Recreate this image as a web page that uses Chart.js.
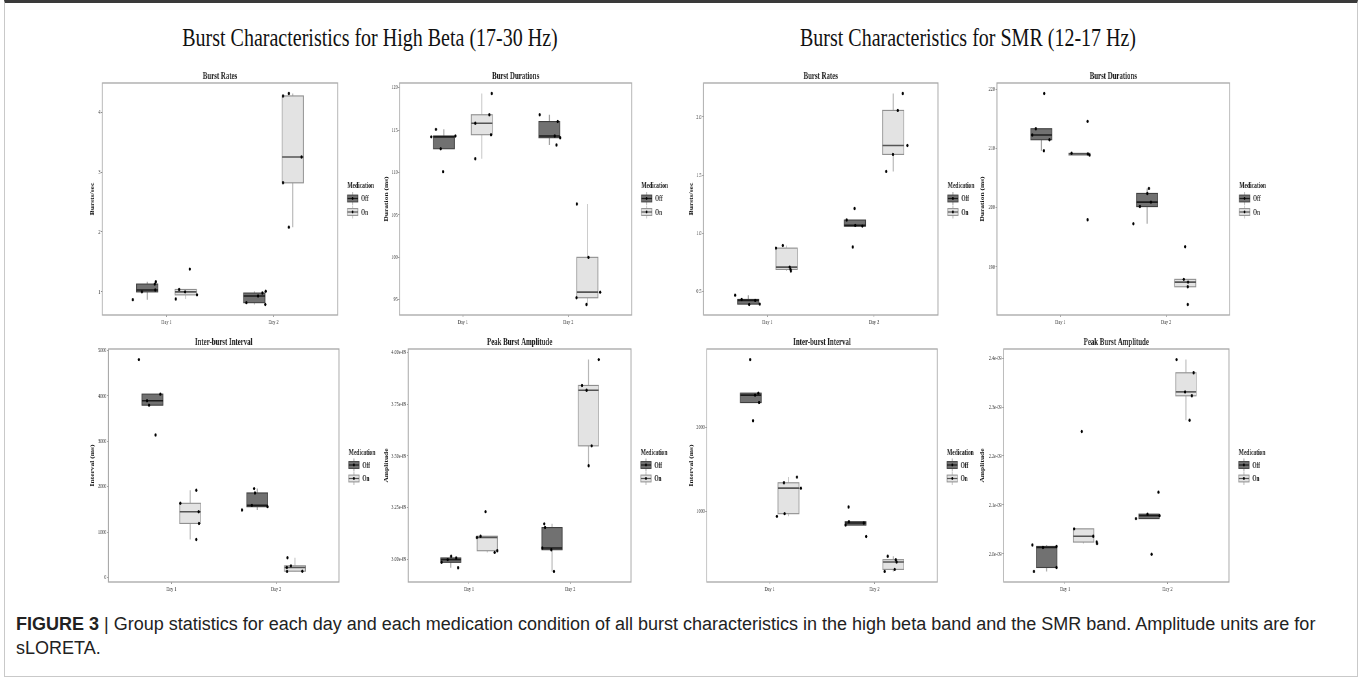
<!DOCTYPE html>
<html>
<head>
<meta charset="utf-8">
<script src="https://cdn.jsdelivr.net/npm/chart.js@4.4.1/dist/chart.umd.min.js"></script>
<style>
  html, body { margin: 0; padding: 0; background: #fff; }
  body { width: 1362px; height: 679px; position: relative; overflow: hidden; }
  .frame { position: absolute; left: 4px; top: 0; width: 1354px; height: 677px; box-sizing: border-box;
           border: 1px solid #c9c9c9; border-top: 3px solid #3a3a3a; }
  .band { position: absolute; top: 23px; width: 640px; text-align: center; white-space: nowrap;
          font-family: "Liberation Serif", "Times New Roman", serif; font-size: 25px; line-height: 30px; color: #111;
          transform: scaleX(0.8); transform-origin: 50% 0; }
  .panel { position: absolute; }
  .panel canvas { display: block; transform-origin: 0 0; }
  .caption { position: absolute; left: 16px; top: 612px; width: 1340px; white-space: nowrap;
             font-family: "Liberation Sans", Arial, sans-serif; font-size: 18px; line-height: 24px; color: #222; }
  .caption b { font-weight: bold; }
</style>
</head>
<body>
<div class="frame"></div>
<div class="band" style="left:50px">Burst Characteristics for High Beta (17-30 Hz)</div>
<div class="band" style="left:648px">Burst Characteristics for SMR (12-17 Hz)</div>
<div class="caption"><b>FIGURE 3</b> | Group statistics for each day and each medication condition of all burst characteristics in the high beta band and the SMR band. Amplitude units are for<br>sLORETA.</div>

<script>
/* ---------- data (5 subjects per group) ---------- */
const days = ["Day 1", "Day 2"];
const medications = ["Off", "On"];
const panelTitles = ["Burst Rates", "Burst Durations", "Burst Rates", "Burst Durations",
                     "Inter-burst Interval", "Peak Burst Amplitude", "Inter-burst Interval", "Peak Burst Amplitude"];
const yTitles = ["Bursts/sec", "Duration (ms)", "Bursts/sec", "Duration (ms)",
                 "Interval (ms)", "Amplitude", "Interval (ms)", "Amplitude"];

// high beta - burst rates
const hbRateOff = [[0.87, 1.00, 1.03, 1.13, 1.17], [0.82, 0.93, 0.98, 1.01, 0.79]];
const hbRateOn = [[0.88, 1.04, 1.00, 0.95, 1.38], [4.27, 4.31, 3.25, 2.82, 2.08]];
const hbRateOffJit = [[-0.135, -0.05, 0.075, 0.07, 0.08], [-0.073, 0.036, 0.076, 0.107, 0.104]];
const hbRateOnJit = [[-0.093, -0.062, -0.006, 0.105, 0.037], [-0.091, -0.036, 0.082, -0.091, -0.036]];
const hbRateTicks = [1, 2, 3, 4];
const hbRateTickLabels = ["1", "2", "3", "4"];

// high beta - burst durations
const hbDurOff = [[114.2, 115.08, 112.8, 110.1, 114.3], [116.8, 116.0, 114.3, 114.1, 113.23]];
const hbDurOn = [[111.62, 115.8, 116.8, 114.45, 119.3], [106.28, 100.0, 95.9, 95.24, 94.45]];
const hbDurOffJit = [[-0.119, -0.075, -0.03, -0.008, 0.11], [-0.092, 0.079, 0.051, 0.102, 0.067]];
const hbDurOnJit = [[-0.062, -0.062, 0.071, 0.087, 0.094], [-0.1, 0.011, 0.122, -0.103, -0.008]];
const hbDurTicks = [95, 100, 105, 110, 115, 120];
const hbDurTickLabels = ["95", "100", "105", "110", "115", "120"];

// SMR - burst rates
const smrRateOff = [[0.468, 0.431, 0.388, 0.423, 0.391], [1.113, 1.213, 1.067, 1.061, 0.881]];
const smrRateOn = [[0.872, 0.895, 0.709, 0.689, 0.675], [2.055, 2.2, 1.754, 1.677, 1.531]];
const smrRateOffJit = [[-0.124, -0.062, 0.009, 0.065, 0.108], [-0.077, -0.002, 0.004, 0.071, -0.019]];
const smrRateOnJit = [[-0.101, -0.036, 0.029, 0.036, 0.039], [0.043, 0.09, 0.133, -0.003, -0.065]];
const smrRateTicks = [0.5, 1.0, 1.5, 2.0];
const smrRateTickLabels = ["0.5", "1.0", "1.5", "2.0"];

// SMR - burst durations
const smrDurOff = [[212.3, 213.35, 219.3, 211.5, 209.63], [197.3, 200.2, 200.96, 202.42, 203.27]];
const smrDurOn = [[209.2, 209.1, 208.9, 214.6, 197.97], [187.9, 187.44, 186.65, 193.4, 183.66]];
const smrDurOffJit = [[-0.086, -0.052, 0.027, 0.077, 0.024], [-0.13, -0.068, 0.036, 0.002, 0.017]];
const smrDurOnJit = [[-0.074, 0.08, 0.096, 0.077, 0.077], [-0.014, 0.027, 0.024, 0.0, 0.024]];
const smrDurTicks = [190, 200, 210, 220];
const smrDurTickLabels = ["190", "200", "210", "220"];

// high beta - inter-burst interval
const hbIbiOff = [[4801, 3893, 3797, 4040, 3140], [1487, 1590, 1959, 1863, 1561]];
const hbIbiOn = [[1635, 1922, 1450, 1192, 838], [435, 258, 221, 140, 135]];
const hbIbiOffJit = [[-0.129, -0.052, -0.033, 0.075, 0.03], [-0.146, -0.051, -0.029, -0.022, 0.098]];
const hbIbiOnJit = [[-0.094, 0.059, 0.081, 0.084, 0.059], [-0.071, -0.038, -0.078, 0.071, -0.075]];
const hbIbiTicks = [0, 1000, 2000, 3000, 4000, 5000];
const hbIbiTickLabels = ["0", "1000", "2000", "3000", "4000", "5000"];

// high beta - peak amplitude
const hbAmpOff = [[2.986e-9, 2.999e-9, 3.015e-9, 3.007e-9, 2.96e-9], [3.172e-9, 3.154e-9, 3.055e-9, 3.047e-9, 2.942e-9]];
const hbAmpOn = [[3.106e-9, 3.112e-9, 3.231e-9, 3.034e-9, 3.042e-9], [3.841e-9, 3.818e-9, 3.966e-9, 3.549e-9, 3.453e-9]];
const hbAmpOffJit = [[-0.091, -0.03, 0.004, 0.053, 0.072], [-0.076, -0.069, -0.096, -0.007, 0.019]];
const hbAmpOnJit = [[-0.102, -0.066, -0.017, 0.073, 0.099], [-0.064, -0.018, 0.101, 0.031, 0.002]];
const hbAmpTicks = [3.0e-9, 3.25e-9, 3.5e-9, 3.75e-9, 4.0e-9];
const hbAmpTickLabels = ["3.00e-09", "3.25e-09", "3.50e-09", "3.75e-09", "4.00e-09"];

// SMR - inter-burst interval
const smrIbiOff = [[2808, 2384, 2408, 2296, 2080], [1052, 876, 860, 836, 700]];
const smrIbiOn = [[1340, 1408, 1276, 972, 940], [464, 424, 396, 308, 284]];
const smrIbiOffJit = [[-0.006, 0.041, 0.073, 0.079, 0.022], [-0.067, -0.063, 0.079, -0.095, 0.102]];
const smrIbiOnJit = [[-0.043, 0.081, 0.119, -0.037, -0.11], [-0.053, 0.024, 0.031, 0.013, -0.082]];
const smrIbiTicks = [1000, 2000];
const smrIbiTickLabels = ["1000", "2000"];

// SMR - peak amplitude
const smrAmpOff = [[2.018e-9, 2.013e-9, 2.015e-9, 1.972e-9, 1.964e-9], [2.072e-9, 2.081e-9, 2.078e-9, 2.126e-9, 1.999e-9]];
const smrAmpOn = [[2.051e-9, 2.036e-9, 2.024e-9, 2.021e-9, 2.25e-9], [2.397e-9, 2.37e-9, 2.331e-9, 2.323e-9, 2.273e-9]];
const smrAmpOffJit = [[-0.139, -0.036, 0.097, 0.097, -0.124], [-0.128, -0.015, 0.102, 0.092, 0.025]];
const smrAmpOnJit = [[-0.092, 0.095, 0.128, 0.132, -0.018], [-0.092, 0.075, -0.008, 0.058, 0.035]];
const smrAmpTicks = [2.0e-9, 2.1e-9, 2.2e-9, 2.3e-9, 2.4e-9];
const smrAmpTickLabels = ["2.0e-09", "2.1e-09", "2.2e-09", "2.3e-09", "2.4e-09"];

/* ---------- layout (page px) ---------- */
const S = 0.65;        // the source panels are squeezed horizontally
const TITLE_H = 22;
const XAXIS_H = 12;
const LEGEND_W = 70;
const DODGE = 0.18, HALF = 0.1;
const serif = "'Liberation Serif', 'Times New Roman', serif";

const layout = [
  { plotL: 102.7, plotR: 338, top: 83, bottom: 315, yTitleX: 93.3 },
  { plotL: 399.3, plotR: 631.7, top: 83, bottom: 315, yTitleX: 386.7 },
  { plotL: 703.3, plotR: 937.7, top: 83, bottom: 315, yTitleX: 691.7 },
  { plotL: 997.3, plotR: 1230, top: 83, bottom: 315, yTitleX: 983.3 },
  { plotL: 108.8, plotR: 339.5, top: 349, bottom: 582, yTitleX: 93.3 },
  { plotL: 408, plotR: 630.5, top: 349, bottom: 582, yTitleX: 386.7 },
  { plotL: 706.5, plotR: 937, top: 349, bottom: 582, yTitleX: 691.7 },
  { plotL: 1004, plotR: 1229, top: 349, bottom: 582, yTitleX: 983.3 },
];

const boxStyle = [
  { fill: "#717171", stroke: "#3f3f3f", median: "#1c1c1c", whisker: "#9c9c9c" }, // Off
  { fill: "#e3e3e3", stroke: "#8e8e8e", median: "#555555", whisker: "#b4b4b4" }, // On
];

const panels = [
  { off: hbRateOff, on: hbRateOn, offJit: hbRateOffJit, onJit: hbRateOnJit, ticks: hbRateTicks, labels: hbRateTickLabels },
  { off: hbDurOff, on: hbDurOn, offJit: hbDurOffJit, onJit: hbDurOnJit, ticks: hbDurTicks, labels: hbDurTickLabels },
  { off: smrRateOff, on: smrRateOn, offJit: smrRateOffJit, onJit: smrRateOnJit, ticks: smrRateTicks, labels: smrRateTickLabels },
  { off: smrDurOff, on: smrDurOn, offJit: smrDurOffJit, onJit: smrDurOnJit, ticks: smrDurTicks, labels: smrDurTickLabels },
  { off: hbIbiOff, on: hbIbiOn, offJit: hbIbiOffJit, onJit: hbIbiOnJit, ticks: hbIbiTicks, labels: hbIbiTickLabels },
  { off: hbAmpOff, on: hbAmpOn, offJit: hbAmpOffJit, onJit: hbAmpOnJit, ticks: hbAmpTicks, labels: hbAmpTickLabels },
  { off: smrIbiOff, on: smrIbiOn, offJit: smrIbiOffJit, onJit: smrIbiOnJit, ticks: smrIbiTicks, labels: smrIbiTickLabels },
  { off: smrAmpOff, on: smrAmpOn, offJit: smrAmpOffJit, onJit: smrAmpOnJit, ticks: smrAmpTicks, labels: smrAmpTickLabels },
];

// R type-7 quantile + tukey whiskers, like geom_boxplot
function quantile(sorted, q) {
  const pos = (sorted.length - 1) * q;
  const lo = Math.floor(pos), hi = Math.ceil(pos);
  return sorted[lo] + (sorted[hi] - sorted[lo]) * (pos - lo);
}
function boxStats(values) {
  const s = [...values].sort((a, b) => a - b);
  const q1 = quantile(s, 0.25), med = quantile(s, 0.5), q3 = quantile(s, 0.75);
  const iqr = q3 - q1;
  const lo = s.find((v) => v >= q1 - 1.5 * iqr);
  const hi = [...s].reverse().find((v) => v <= q3 + 1.5 * iqr);
  return { q1, med, q3, lo, hi };
}

function makePanelPlugin(idx, p) {
  const series = [p.off, p.on];
  return {
    id: "panel" + idx,
    beforeDatasetsDraw(chart) {
      const { ctx, scales: { x, y } } = chart;
      ctx.save();
      series.forEach((groups, m) => {
        const st = boxStyle[m];
        groups.forEach((vals, d) => {
          const b = boxStats(vals);
          const c = d + 1 + (m ? DODGE : -DODGE);
          const xc = x.getPixelForValue(c);
          const x0 = x.getPixelForValue(c - HALF), x1 = x.getPixelForValue(c + HALF);
          // whiskers
          ctx.strokeStyle = st.whisker;
          ctx.lineWidth = 1.4;
          ctx.beginPath();
          ctx.moveTo(xc, y.getPixelForValue(b.hi));
          ctx.lineTo(xc, y.getPixelForValue(b.q3));
          ctx.moveTo(xc, y.getPixelForValue(b.q1));
          ctx.lineTo(xc, y.getPixelForValue(b.lo));
          ctx.stroke();
          // box
          const yt = y.getPixelForValue(b.q3), yb = y.getPixelForValue(b.q1);
          ctx.fillStyle = st.fill;
          ctx.fillRect(x0, yt, x1 - x0, yb - yt);
          ctx.strokeStyle = st.stroke;
          ctx.lineWidth = 1.1;
          ctx.strokeRect(x0, yt, x1 - x0, yb - yt);
          // median
          const ym = y.getPixelForValue(b.med);
          ctx.strokeStyle = st.median;
          ctx.lineWidth = 1.6;
          ctx.beginPath();
          ctx.moveTo(x0, ym);
          ctx.lineTo(x1, ym);
          ctx.stroke();
        });
      });
      ctx.restore();
    },
    afterDraw(chart) {
      const { ctx, chartArea: a } = chart;
      ctx.save();
      // panel border
      ctx.strokeStyle = "#a6a6a6";
      ctx.lineWidth = 1.3;
      ctx.strokeRect(a.left, a.top, a.right - a.left, a.bottom - a.top);
      // panel title
      ctx.fillStyle = "#1a1a1a";
      ctx.font = `bold 10.5px ${serif}`;
      ctx.textAlign = "center";
      ctx.textBaseline = "middle";
      ctx.fillText(panelTitles[idx], (a.left + a.right) / 2, a.top - 7);
      // legend
      const lx = a.right + 15;
      const cy = (a.top + a.bottom) / 2;
      ctx.textAlign = "left";
      ctx.font = `bold 8.5px ${serif}`;
      ctx.fillText("Medication", lx, cy - 13);
      medications.forEach((name, m) => {
        const st = boxStyle[m];
        const ky = cy - 0.5 + m * 13.5;
        const kw = 16, kh = 6.8;
        ctx.strokeStyle = st.whisker;
        ctx.lineWidth = 1.2;
        ctx.beginPath();
        ctx.moveTo(lx + kw / 2, ky - 6.5);
        ctx.lineTo(lx + kw / 2, ky + 6.5);
        ctx.stroke();
        ctx.fillStyle = st.fill;
        ctx.fillRect(lx, ky - kh / 2, kw, kh);
        ctx.strokeStyle = st.stroke;
        ctx.lineWidth = 1;
        ctx.strokeRect(lx, ky - kh / 2, kw, kh);
        ctx.strokeStyle = st.median;
        ctx.lineWidth = 1.2;
        ctx.beginPath();
        ctx.moveTo(lx, ky);
        ctx.lineTo(lx + kw, ky);
        ctx.stroke();
        ctx.fillStyle = "#000";
        ctx.beginPath();
        ctx.arc(lx + kw / 2, ky, 1.4, 0, Math.PI * 2);
        ctx.fill();
        ctx.fillStyle = "#1a1a1a";
        ctx.font = `bold 8px ${serif}`;
        ctx.fillText(name, lx + kw + 5, ky + 0.5);
      });
      ctx.restore();
    },
  };
}

panels.forEach((p, idx) => {
  const L = layout[idx];
  const canvasLeft = L.yTitleX - 4.5 * S;
  const axisW = (L.plotL - canvasLeft) / S;
  const plotW = (L.plotR - L.plotL) / S;
  const width = Math.round(axisW + plotW + LEGEND_W);
  const height = Math.round(TITLE_H + (L.bottom - L.top) + XAXIS_H);

  const wrap = document.createElement("div");
  wrap.className = "panel";
  wrap.style.left = canvasLeft + "px";
  wrap.style.top = (L.top - TITLE_H) + "px";
  const canvas = document.createElement("canvas");
  canvas.width = width;
  canvas.height = height;
  canvas.style.transform = `scaleX(${S})`;
  wrap.appendChild(canvas);
  document.body.appendChild(wrap);

  // y range: data range + 5% each side (ggplot default expansion)
  const all = [...p.off.flat(), ...p.on.flat()];
  const lo = Math.min(...all), hi = Math.max(...all);
  const pad = (hi - lo) * 0.05;

  const jit = [p.offJit, p.onJit];
  const datasets = [p.off, p.on].map((groups, m) => ({
    label: medications[m],
    data: groups.flatMap((vals, d) =>
      vals.map((v, i) => ({ x: d + 1 + (m ? DODGE : -DODGE) + jit[m][d][i], y: v }))
    ),
    pointRadius: 1.7,
    pointBackgroundColor: "#000",
    pointBorderWidth: 0,
  }));

  new Chart(canvas.getContext("2d"), {
    type: "scatter",
    data: { datasets },
    options: {
      responsive: false,
      animation: false,
      devicePixelRatio: 1,
      layout: { padding: { top: TITLE_H, right: LEGEND_W, left: 0, bottom: 0 } },
      plugins: { legend: { display: false }, tooltip: { enabled: false }, title: { display: false } },
      scales: {
        x: {
          type: "linear",
          min: 0.4,
          max: 2.6,
          bounds: "data",
          afterBuildTicks: (s) => { s.ticks = days.map((_, i) => ({ value: i + 1 })); },
          afterFit: (s) => { s.height = XAXIS_H; },
          ticks: {
            callback: (v) => days[v - 1],
            font: { family: serif, size: 6.5 },
            color: "#333",
            padding: 1,
            maxRotation: 0,
            autoSkip: false,
          },
          grid: { drawOnChartArea: false, drawTicks: true, tickLength: 2, color: "#8a8a8a" },
          border: { display: false },
        },
        y: {
          type: "linear",
          min: lo - pad,
          max: hi + pad,
          bounds: "data",
          afterBuildTicks: (s) => { s.ticks = p.ticks.map((v) => ({ value: v })); },
          afterFit: (s) => { s.width = axisW; },
          ticks: {
            callback: (v, i) => p.labels[i],
            font: { family: serif, size: 6.5 },
            color: "#333",
            padding: 1,
            autoSkip: false,
          },
          grid: { drawOnChartArea: false, drawTicks: true, tickLength: 2, color: "#8a8a8a" },
          border: { display: false },
          title: {
            display: true,
            text: yTitles[idx],
            font: { family: serif, size: 7.5, weight: "bold" },
            color: "#111",
            padding: 0,
          },
        },
      },
    },
    plugins: [makePanelPlugin(idx, p)],
  });
});
</script>
</body>
</html>
